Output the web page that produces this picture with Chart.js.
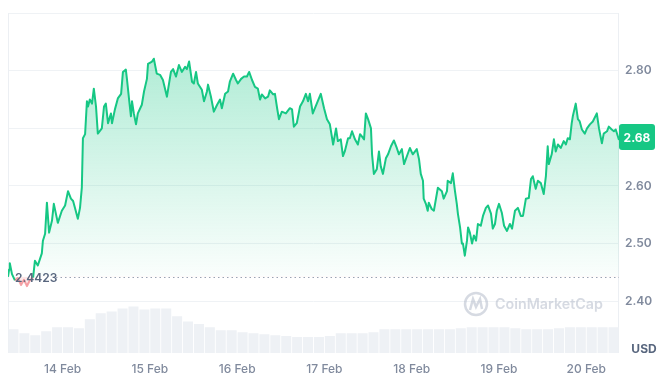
<!DOCTYPE html>
<html>
<head>
<meta charset="utf-8">
<script src="https://cdn.jsdelivr.net/npm/chart.js@4.4.1/dist/chart.umd.min.js"></script>
<style>
  html, body { margin: 0; padding: 0; background: #fff; }
  #wrap { width: 671px; height: 378px; }
</style>
</head>
<body>
<div id="wrap"><canvas id="grafico" width="671" height="378"></canvas></div>
<script>
// hours counted from 13 Feb 00:00
const hours = [
  9.0, 9.3, 9.5, 10.1, 10.9, 11.7, 12.6, 13.4, 14.2, 15.0, 15.9, 16.4, 17.2, 18.3, 18.6, 19.2, 19.7, 20.3, 21.1, 21.6,
  22.7, 23.8, 24.7, 25.5, 26.3, 26.9, 27.4, 28.2, 28.8, 29.3, 29.6, 30.2, 30.7, 31.0, 31.5, 32.1, 32.6, 33.2, 33.7, 34.8,
  35.4, 35.9, 36.5, 37.3, 37.6, 38.4, 39.2, 40.1, 40.6, 41.4, 41.7, 42.3, 42.8, 43.1, 43.6, 44.2, 44.7, 45.8, 46.4, 47.2,
  47.5, 48.6, 49.1, 49.9, 50.8, 51.6, 52.7, 53.0, 53.8, 54.4, 55.2, 56.0, 56.8, 57.7, 58.2, 58.8, 59.6, 60.1, 60.7, 61.2,
  62.3, 62.9, 63.7, 64.0, 64.8, 65.6, 66.5, 67.3, 67.8, 68.7, 69.5, 70.0, 70.9, 71.7, 72.2, 73.1, 73.9, 74.7, 75.3, 76.1,
  76.9, 77.7, 78.3, 78.8, 79.7, 80.5, 81.0, 81.9, 82.4, 83.0, 83.5, 84.3, 85.4, 86.5, 87.1, 87.6, 88.4, 89.3, 90.1, 90.9,
  91.5, 92.0, 92.8, 93.9, 95.0, 95.9, 96.7, 97.5, 98.4, 99.2, 99.7, 100.5, 101.1, 101.6, 102.5, 103.0, 103.6, 104.4, 105.2, 105.8,
  106.3, 106.9, 107.4, 108.0, 108.8, 109.1, 109.6, 110.4, 111.0, 111.5, 112.1, 112.9, 113.5, 114.3, 115.1, 115.9, 116.5, 117.3, 117.9, 118.7,
  119.5, 120.3, 121.4, 122.0, 122.5, 123.1, 123.3, 123.9, 124.4, 124.7, 125.5, 126.1, 126.9, 127.2, 128.3, 128.8, 129.7, 129.9, 130.8, 131.3,
  131.9, 132.4, 132.7, 133.3, 133.8, 134.1, 134.6, 135.2, 135.5, 136.0, 136.6, 137.1, 137.7, 138.2, 139.0, 139.6, 140.4, 141.0, 141.8, 142.3,
  142.9, 143.4, 144.0, 144.8, 145.4, 146.2, 147.0, 147.6, 148.4, 149.2, 150.0, 150.6, 151.4, 152.2, 152.8, 153.3, 154.1, 154.7, 155.5, 156.3,
  156.9, 157.4, 157.7, 158.5, 159.1, 159.6, 160.2, 161.0, 161.8, 162.4, 162.9, 163.5, 164.0, 164.3, 165.1, 165.7, 166.2, 166.8, 167.6, 168.2,
  169.0, 169.8, 170.9, 171.5, 172.3, 172.8, 173.7, 174.2, 175.0, 175.6, 176.1, 176.7, 177.0
];
const prices = [
  2.4423, 2.455, 2.466, 2.447, 2.436, 2.440, 2.428, 2.437, 2.426, 2.436, 2.441, 2.470, 2.462, 2.483, 2.505, 2.517, 2.571, 2.519, 2.540, 2.569,
  2.536, 2.557, 2.566, 2.591, 2.578, 2.574, 2.562, 2.543, 2.562, 2.597, 2.683, 2.690, 2.747, 2.738, 2.750, 2.743, 2.769, 2.738, 2.691, 2.700,
  2.738, 2.743, 2.709, 2.726, 2.709, 2.733, 2.752, 2.760, 2.798, 2.802, 2.786, 2.750, 2.721, 2.747, 2.726, 2.707, 2.726, 2.741, 2.764, 2.786,
  2.812, 2.816, 2.821, 2.795, 2.793, 2.784, 2.755, 2.767, 2.798, 2.803, 2.790, 2.810, 2.798, 2.807, 2.803, 2.816, 2.781, 2.778, 2.798, 2.778,
  2.767, 2.747, 2.764, 2.776, 2.755, 2.729, 2.741, 2.750, 2.735, 2.760, 2.764, 2.781, 2.795, 2.784, 2.778, 2.786, 2.790, 2.790, 2.798, 2.784,
  2.772, 2.769, 2.750, 2.759, 2.752, 2.755, 2.766, 2.759, 2.760, 2.735, 2.716, 2.729, 2.726, 2.735, 2.733, 2.703, 2.709, 2.738, 2.747, 2.760,
  2.747, 2.760, 2.726, 2.743, 2.760, 2.735, 2.716, 2.707, 2.672, 2.700, 2.678, 2.681, 2.652, 2.660, 2.683, 2.683, 2.695, 2.681, 2.672, 2.690,
  2.686, 2.681, 2.726, 2.716, 2.700, 2.655, 2.621, 2.629, 2.660, 2.634, 2.621, 2.648, 2.655, 2.669, 2.679, 2.666, 2.655, 2.664, 2.638, 2.652,
  2.666, 2.655, 2.664, 2.647, 2.621, 2.609, 2.578, 2.569, 2.557, 2.571, 2.560, 2.557, 2.586, 2.597, 2.591, 2.578, 2.591, 2.609, 2.605, 2.622,
  2.591, 2.569, 2.552, 2.528, 2.500, 2.500, 2.479, 2.505, 2.528, 2.519, 2.500, 2.514, 2.505, 2.534, 2.531, 2.548, 2.562, 2.566, 2.552, 2.526,
  2.534, 2.557, 2.569, 2.553, 2.531, 2.522, 2.534, 2.526, 2.557, 2.562, 2.548, 2.548, 2.578, 2.579, 2.612, 2.617, 2.595, 2.609, 2.605, 2.586,
  2.617, 2.669, 2.638, 2.655, 2.681, 2.660, 2.672, 2.666, 2.678, 2.672, 2.683, 2.681, 2.709, 2.721, 2.743, 2.716, 2.712, 2.698, 2.691, 2.700,
  2.707, 2.712, 2.726, 2.700, 2.674, 2.691, 2.695, 2.703, 2.698, 2.695, 2.698, 2.686, 2.680
];

// volume (M USD), one bar every 3 hours starting 13 Feb 09:00
const volStart = 9;
const volStep = 3;
const volume = [
  70, 58, 52, 64, 76, 76, 73, 99, 117, 122, 131, 137, 128, 131, 131, 108, 93, 85, 76, 67,
  67, 61, 58, 55, 52, 50, 47, 47, 47, 50, 58, 58, 58, 61, 70, 70, 70, 70, 70, 70,
  70, 73, 76, 76, 76, 76, 73, 70, 70, 70, 73, 76, 76, 76, 76, 76
];

const dayTicks = [24, 48, 72, 96, 120, 144, 168];
const dayLabels = ['14 Feb', '15 Feb', '16 Feb', '17 Feb', '18 Feb', '19 Feb', '20 Feb'];
const priceTicks = [2.40, 2.50, 2.60, 2.70, 2.80, 2.90];
const priceLabels = ['2.40', '2.50', '2.60', '', '2.80', ''];
const openPrice = 2.4423;
const lastPrice = 2.68;

const verde = '#16c784';
const gris = '#808a9d';
const grisOscuro = '#58667e';
const fuente = 'Inter, "Noto Sans", sans-serif';

// marco, línea de apertura, etiquetas y marca de agua
const decoraciones = {
  id: 'decoraciones',
  beforeDatasetsDraw(chart) {
    const { ctx, chartArea: a } = chart;
    ctx.save();
    ctx.strokeStyle = '#eceff3';
    ctx.lineWidth = 1;
    ctx.beginPath();
    ctx.moveTo(a.left + 0.5, a.top); ctx.lineTo(a.left + 0.5, a.bottom);
    ctx.moveTo(a.right - 0.5, a.top); ctx.lineTo(a.right - 0.5, a.bottom);
    ctx.stroke();

    // marca de agua
    const txt = 'CoinMarketCap';
    ctx.font = '600 15px ' + fuente;
    const w = ctx.measureText(txt).width;
    const size = 15 * 108 / w;
    ctx.font = '600 ' + size + 'px ' + fuente;
    ctx.fillStyle = 'rgba(180,188,202,0.55)';
    ctx.textAlign = 'left';
    ctx.textBaseline = 'middle';
    ctx.fillText(txt, 495, 305);
    ctx.strokeStyle = 'rgba(180,188,202,0.55)';
    ctx.lineWidth = 2.5;
    ctx.beginPath();
    ctx.arc(476, 304, 11, 0, Math.PI * 2);
    ctx.stroke();
    ctx.beginPath();
    ctx.moveTo(470, 310);
    ctx.lineTo(473, 299);
    ctx.lineTo(476, 307);
    ctx.lineTo(480, 299);
    ctx.lineTo(482, 309);
    ctx.stroke();
    ctx.restore();
  },
  afterDatasetsDraw(chart) {
    const { ctx, chartArea: a, scales } = chart;
    const yb = Math.round(scales.y.getPixelForValue(openPrice)) + 0.5;
    ctx.save();
    ctx.strokeStyle = '#9aa3b3';
    ctx.lineWidth = 1;
    ctx.setLineDash([1.5, 3]);
    ctx.beginPath();
    ctx.moveTo(56, yb);
    ctx.lineTo(a.right, yb);
    ctx.stroke();
    ctx.setLineDash([]);
    ctx.font = '600 12px ' + fuente;
    ctx.fillStyle = grisOscuro;
    ctx.textAlign = 'left';
    ctx.textBaseline = 'middle';
    ctx.fillText(openPrice.toFixed(4), 15, yb + 1);
    ctx.restore();
  },
  afterDraw(chart) {
    const { ctx, chartArea: a, scales } = chart;
    const y = scales.y.getPixelForValue(lastPrice) - 3;
    const x0 = a.right, w = 36, h = 26;
    ctx.save();
    ctx.fillStyle = verde;
    ctx.beginPath();
    ctx.roundRect(x0, y - h / 2, w, h, 3);
    ctx.fill();
    ctx.font = 'bold 12px ' + fuente;
    ctx.fillStyle = '#fff';
    ctx.textAlign = 'center';
    ctx.textBaseline = 'middle';
    ctx.fillText(lastPrice.toFixed(2), x0 + w / 2, y + 1);
    ctx.fillStyle = grisOscuro;
    ctx.fillText('USD', 644, 349);
    ctx.restore();
  }
};

const ctx = document.getElementById('grafico').getContext('2d');

new Chart(ctx, {
  data: {
    datasets: [
      {
        type: 'line',
        order: 1,
        yAxisID: 'y',
        data: hours.map((h, i) => ({ x: h, y: prices[i] })),
        borderColor: verde,
        borderWidth: 2,
        borderJoinStyle: 'round',
        pointRadius: 0,
        tension: 0,
        segment: {
          borderColor: c => (c.p0.parsed.y < openPrice && c.p1.parsed.y < openPrice) ? 'rgba(234,57,67,0.45)' : verde
        },
        backgroundColor: (context) => {
          const chart = context.chart;
          const { chartArea, scales } = chart;
          if (!chartArea) return 'rgba(22,199,132,0.2)';
          const yb = scales.y.getPixelForValue(openPrice);
          const g = chart.ctx.createLinearGradient(0, chartArea.top + 40, 0, yb);
          g.addColorStop(0, 'rgba(22,199,132,0.34)');
          g.addColorStop(1, 'rgba(22,199,132,0.02)');
          return g;
        },
        fill: { value: openPrice, below: 'rgba(234,57,67,0.12)' }
      },
      {
        type: 'bar',
        order: 2,
        yAxisID: 'yv',
        data: volume.map((v, i) => ({ x: volStart + volStep / 2 + i * volStep, y: v })),
        backgroundColor: '#eef1f5',
        borderWidth: 0,
        barPercentage: 0.92,
        categoryPercentage: 1
      }
    ]
  },
  options: {
    responsive: false,
    animation: false,
    layout: { padding: { left: 8, top: 10, right: 0, bottom: 0 } },
    plugins: {
      legend: { display: false },
      tooltip: { enabled: false }
    },
    scales: {
      x: {
        type: 'linear',
        offset: false,
        min: 9,
        max: 177,
        grid: { display: false, offset: false },
        border: { display: false },
        afterBuildTicks: s => { s.ticks = dayTicks.map(v => ({ value: v })); },
        afterFit: s => { s.height = 25; },
        ticks: {
          autoSkip: false,
          maxRotation: 0,
          padding: 1,
          color: gris,
          font: { family: fuente, size: 12, weight: '500' },
          callback: v => dayLabels[dayTicks.indexOf(v)]
        }
      },
      y: {
        position: 'right',
        min: 2.31,
        max: 2.90,
        grid: { color: '#eff2f5', drawTicks: false },
        border: { display: false },
        afterBuildTicks: s => { s.ticks = priceTicks.map(v => ({ value: v })); },
        afterFit: s => { s.width = 52; },
        ticks: {
          padding: 6,
          crossAlign: 'near',
          color: gris,
          font: { family: fuente, size: 12, weight: '600' },
          callback: (v, i) => priceLabels[i]
        }
      },
      yv: {
        display: false,
        min: 0,
        max: 1000
      }
    }
  },
  plugins: [decoraciones]
});
</script>
</body>
</html>
